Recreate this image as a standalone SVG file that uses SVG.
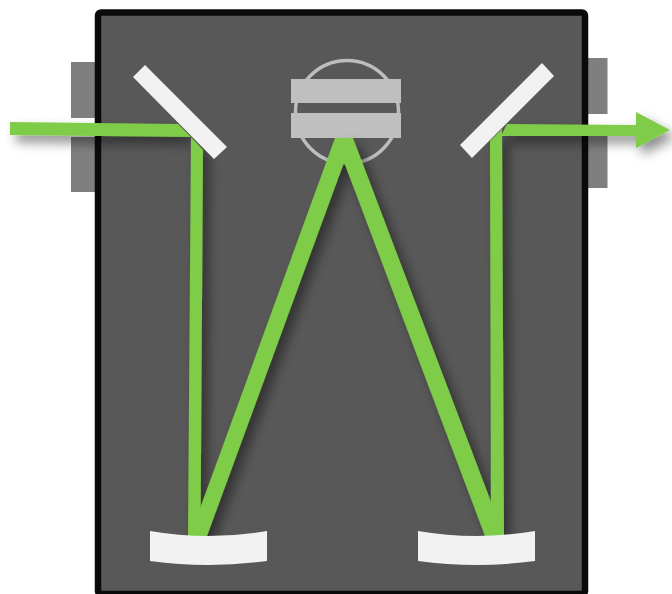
<svg xmlns="http://www.w3.org/2000/svg" width="672" height="594" viewBox="0 0 672 594">
<style>
.tab{fill:#7f7f7f}
.mirror{fill:#f2f2f2}
.bs{fill:#bfbfbf}
.beam{fill:#7ecc46}
</style>
<defs>
<filter id="sh" x="-10%" y="-10%" width="125%" height="125%">
<feDropShadow dx="6" dy="7" stdDeviation="6" flood-color="#000" flood-opacity="0.45"/>
</filter>
</defs>
<rect width="672" height="594" fill="#fff"/>
<g id="tabs-left">
<rect class="tab" x="71" y="62" width="26" height="56"/>
<rect class="tab" x="71" y="137" width="26" height="55"/>
</g>
<g id="tabs-right">
<rect class="tab" x="586" y="58" width="21.500" height="56"/>
<rect class="tab" x="586" y="136" width="21.500" height="52"/>
</g>
<g id="housing">
<rect x="98" y="12.500" width="487" height="581.500" rx="3" fill="#585858" stroke="#0a0a0a" stroke-width="6.500"/>
</g>
<g id="prism">
<circle cx="347" cy="112" r="51.500" fill="none" stroke="#bdbdbd" stroke-width="3.500"/>
<rect class="bs" x="291" y="79" width="110" height="24"/>
<rect class="bs" x="291" y="113" width="110" height="25"/>
</g>
<g id="connectors" filter="url(#sh)">
<polygon class="beam" points="10,122 178,124 191,137 10,135"/>
<polygon class="beam" points="191,137 203,150 200.500,536 188,536"/>
<polygon class="beam" points="335,138 353,138 207,536 190,536"/>
<polygon class="beam" points="335,138 353,138 504,536 485,536"/>
<polygon class="beam" points="490,141 502,129 504,536 491,536"/>
<polygon class="beam" points="507,124 636,125 636,112 670,130 636,148 636,136 501,136"/>
</g>
<g id="mirror-in">
<polygon class="mirror" points="145,65 133,77 214,159 227,147"/>
</g>
<g id="mirror-out">
<polygon class="mirror" points="542,63 554,76 472,158 460,145"/>
</g>
<g id="concave-left">
<path class="mirror" d="M150,531 Q208,541 267,531 V561 Q208,569 150,561 Z"/>
</g>
<g id="concave-right">
<path class="mirror" d="M418,531 Q476,541 535,531 V561 Q476,569 418,561 Z"/>
</g>
</svg>
